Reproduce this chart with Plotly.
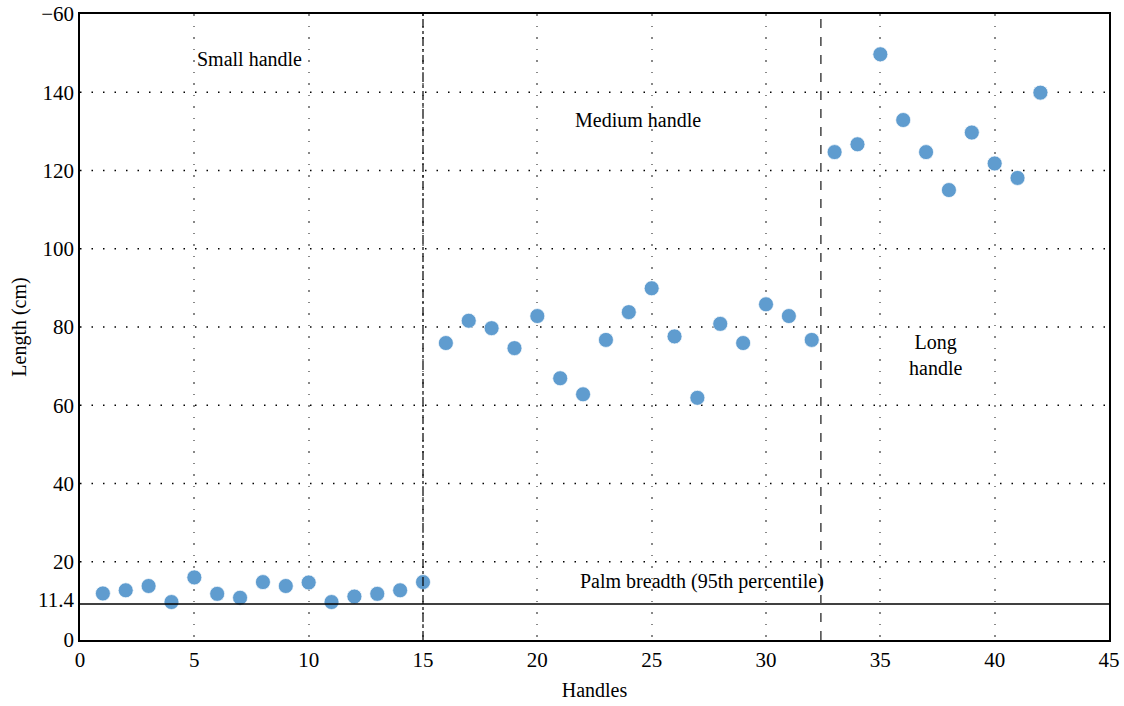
import plotly.graph_objects as go

handles = list(range(1, 43))
lengths = [11.9, 12.7, 13.8, 9.7, 16.0, 11.8, 10.8, 14.8, 13.8, 14.7,
           9.7, 11.1, 11.8, 12.7, 14.8,
           75.9, 81.6, 79.7, 74.6, 82.8, 66.9, 62.8, 76.7, 83.8, 89.9,
           77.6, 61.9, 80.8, 75.9, 85.8, 82.8, 76.7,
           124.7, 126.7, 149.7, 132.9, 124.7, 115.0, 129.7, 121.8, 118.1, 139.9]

y_tickvals = [0, 10.2, 20, 40, 60, 80, 100, 120, 140, 160]
y_ticktext = ["0", "11.4", "20", "40", "60", "80", "100", "120", "140", "\u221260"]
y_gridvals = [20, 40, 60, 80, 100, 120, 140]
x_tickvals = [0, 5, 10, 15, 20, 25, 30, 35, 40, 45]

palm_y = 9.2
small_medium_x = 15
medium_long_x = 32.4

FONT = "Liberation Serif, DejaVu Serif, serif"
FS = 20
TFS = 21

fig = go.Figure()
fig.add_trace(go.Scatter(
    x=handles, y=lengths, mode="markers",
    marker=dict(size=15, color="#5f9ccf", line=dict(color="rgba(255,255,255,0.7)", width=1)),
    showlegend=False,
))

for gv in y_gridvals:
    fig.add_shape(type="line", xref="x", yref="y", x0=0, x1=45, y0=gv, y1=gv,
                  line=dict(color="black", width=1.5, dash="1.5px,10px"), layer="below")

fig.add_shape(type="line", xref="x", yref="y", x0=0, x1=45, y0=palm_y, y1=palm_y,
              line=dict(color="black", width=1.5))
fig.add_shape(type="line", xref="x", yref="y", x0=small_medium_x, x1=small_medium_x, y0=0, y1=160,
              line=dict(color="black", width=1.2, dash="dashdot"))
fig.add_shape(type="line", xref="x", yref="y", x0=medium_long_x, x1=medium_long_x, y0=0, y1=160,
              line=dict(color="#444444", width=1.5, dash="dash"))

ann_font = dict(family=FONT, size=FS, color="black")
fig.add_annotation(x=7.4, y=148.5, text="Small handle", showarrow=False, font=ann_font)
fig.add_annotation(x=24.4, y=133, text="Medium handle", showarrow=False, font=ann_font)
fig.add_annotation(x=37.4, y=72.8, text="Long<br>handle", showarrow=False, font=ann_font)
fig.add_annotation(x=27.2, y=14.9, text="Palm breadth (95th percentile)", showarrow=False, font=ann_font)

fig.update_layout(
    width=1124, height=706,
    margin=dict(l=80, r=15, t=14, b=66),
    plot_bgcolor="white", paper_bgcolor="white",
    font=dict(family=FONT, size=FS, color="black"),
    xaxis=dict(range=[0, 45], tickvals=x_tickvals, showgrid=True,
               gridcolor="#888888", griddash="1.5px,10px", gridwidth=1.5,
               showline=True, linecolor="black", linewidth=1.5, mirror=True,
               zeroline=False, ticks="", ticklen=0, automargin=False,
               ticklabeloverflow="allow",
               tickfont=dict(family=FONT, size=TFS),
               title=dict(text="Handles", standoff=12, font=dict(family=FONT, size=FS))),
    yaxis=dict(range=[0, 160], tickvals=y_tickvals, ticktext=y_ticktext, showgrid=False,
               showline=True, linecolor="black", linewidth=1.5, mirror=True,
               zeroline=False, ticks="", ticklen=0, automargin=False,
               ticklabeloverflow="allow",
               tickfont=dict(family=FONT, size=TFS),
               title=dict(text="Length (cm)", standoff=6, font=dict(family=FONT, size=FS))),
)
fig.write_html("out.html", config={"displayModeBar": False},
               post_script="document.body.style.margin='0';document.body.style.overflow='hidden';")
